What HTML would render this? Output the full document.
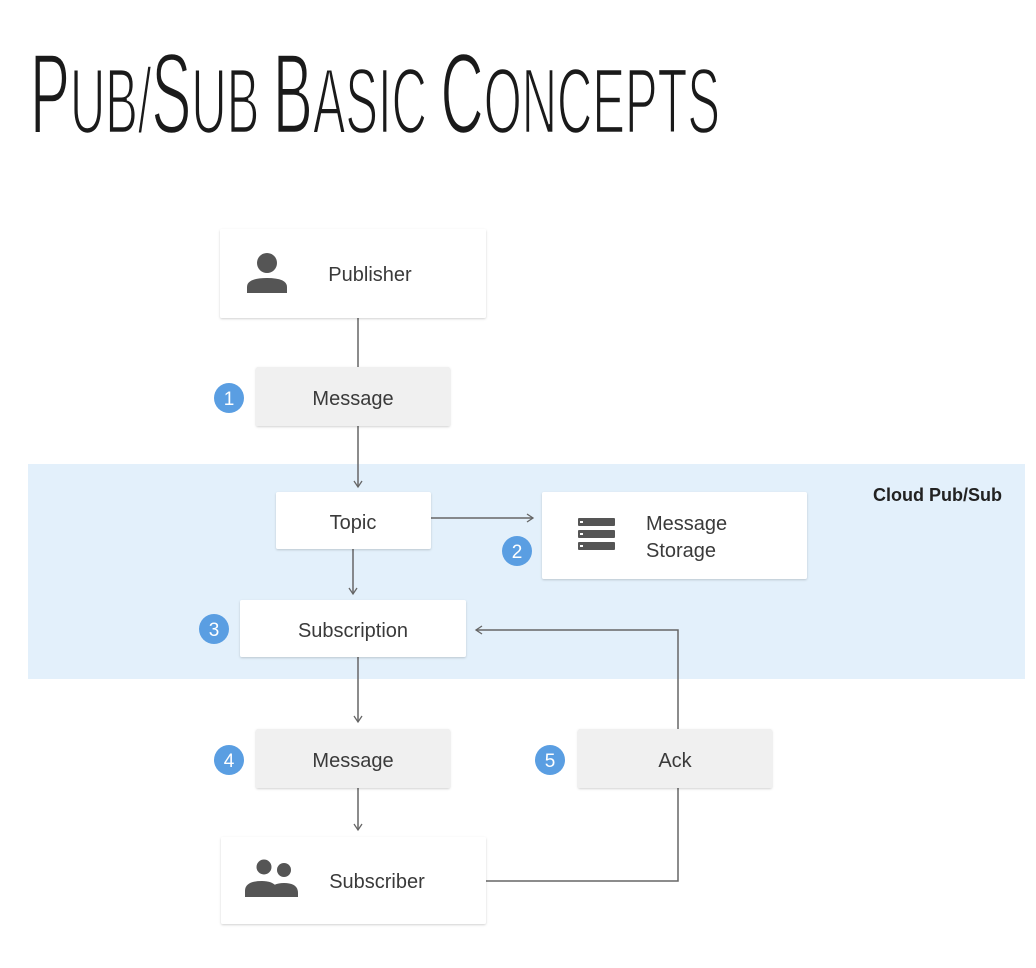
<!DOCTYPE html>
<html><head><meta charset="utf-8"><style>
html,body{margin:0;padding:0;background:#fff;}
svg{display:block;}
text{font-family:"Liberation Sans",sans-serif;}
</style></head><body>
<svg width="1036" height="968" viewBox="0 0 1036 968" xmlns="http://www.w3.org/2000/svg">
<defs>
<marker id="a" markerWidth="12" markerHeight="12" refX="9" refY="6" orient="auto" markerUnits="userSpaceOnUse">
<path d="M3,2 L9,6 L3,10" fill="none" stroke="#666" stroke-width="1.3"/></marker>
<filter id="s" x="-5%" y="-5%" width="110%" height="115%"><feDropShadow dx="0" dy="1" stdDeviation="1" flood-color="#000" flood-opacity="0.18"/></filter>
</defs>
<rect width="1036" height="968" fill="#fff"/>
<text x="30" y="133" textLength="690" lengthAdjust="spacingAndGlyphs" fill="#1a1a1a" stroke="#fff" stroke-width="2.5"><tspan font-size="114">P</tspan><tspan font-size="93">UB/</tspan><tspan font-size="114">S</tspan><tspan font-size="93">UB </tspan><tspan font-size="114">B</tspan><tspan font-size="93">ASIC </tspan><tspan font-size="114">C</tspan><tspan font-size="93">ONCEPTS</tspan></text>

<rect x="28" y="464" width="997" height="215" fill="#e3f0fb"/>
<text x="1002" y="501" text-anchor="end" font-size="18" font-weight="bold" fill="#222">Cloud Pub/Sub</text>

<g stroke="#666" stroke-width="1.5" fill="none">
<line x1="358" y1="318" x2="358" y2="367"/>
<line x1="358" y1="426" x2="358" y2="487" marker-end="url(#a)"/>
<line x1="353" y1="549" x2="353" y2="594" marker-end="url(#a)"/>
<line x1="431" y1="518" x2="533" y2="518" marker-end="url(#a)"/>
<line x1="358" y1="657" x2="358" y2="722" marker-end="url(#a)"/>
<line x1="358" y1="788" x2="358" y2="830" marker-end="url(#a)"/>
<polyline points="486,881 678,881 678,788"/>
<polyline points="678,729 678,630 476,630" marker-end="url(#a)"/>
</g>

<g filter="url(#s)">
<rect x="220" y="229" width="266" height="89" rx="2" fill="#fff"/>
<rect x="256" y="367" width="194" height="59" rx="2" fill="#f0f0f0"/>
<rect x="276" y="492" width="155" height="57" rx="2" fill="#fff"/>
<rect x="542" y="492" width="265" height="87" rx="2" fill="#fff"/>
<rect x="240" y="600" width="226" height="57" rx="2" fill="#fff"/>
<rect x="256" y="729" width="194" height="59" rx="2" fill="#f0f0f0"/>
<rect x="578" y="729" width="194" height="59" rx="2" fill="#f0f0f0"/>
<rect x="221" y="837" width="265" height="87" rx="2" fill="#fff"/>
</g>

<g fill="#555">
<circle cx="267" cy="263" r="10"/>
<path d="M247,293 v-6 q0,-9 20,-9 q20,0 20,9 v6 z"/>
<rect x="578" y="518" width="37" height="8" rx="1"/>
<rect x="578" y="530" width="37" height="8" rx="1"/>
<rect x="578" y="542" width="37" height="8" rx="1"/>
<circle cx="264" cy="867" r="7.5"/><circle cx="284" cy="870" r="7"/>
<path d="M245,897 v-6 q0,-10 17,-10 q10,0 14,5 q-6,4 -6,11 z"/>
<path d="M270,897 v-4 q0,-10 14,-10 q14,0 14,10 v4 z"/>
</g>
<g fill="#fff"><rect x="580" y="521" width="3" height="2"/><rect x="580" y="533" width="3" height="2"/><rect x="580" y="545" width="3" height="2"/></g>

<g font-size="20" fill="#3a3a3a" text-anchor="middle">
<text x="370" y="281">Publisher</text>
<text x="353" y="405">Message</text>
<text x="353" y="529">Topic</text>
<text x="646" y="530" text-anchor="start">Message</text>
<text x="646" y="557" text-anchor="start">Storage</text>
<text x="353" y="637">Subscription</text>
<text x="353" y="767">Message</text>
<text x="675" y="767">Ack</text>
<text x="377" y="888">Subscriber</text>
</g>

<g fill="#5a9ee2"><circle cx="229" cy="398" r="15"/><circle cx="517" cy="551" r="15"/><circle cx="214" cy="629" r="15"/><circle cx="229" cy="760" r="15"/><circle cx="550" cy="760" r="15"/></g>
<g fill="#fff" font-size="19" text-anchor="middle">
<text x="229" y="405">1</text><text x="517" y="558">2</text><text x="214" y="636">3</text><text x="229" y="767">4</text><text x="550" y="767">5</text>
</g>
</svg>
</body></html>
